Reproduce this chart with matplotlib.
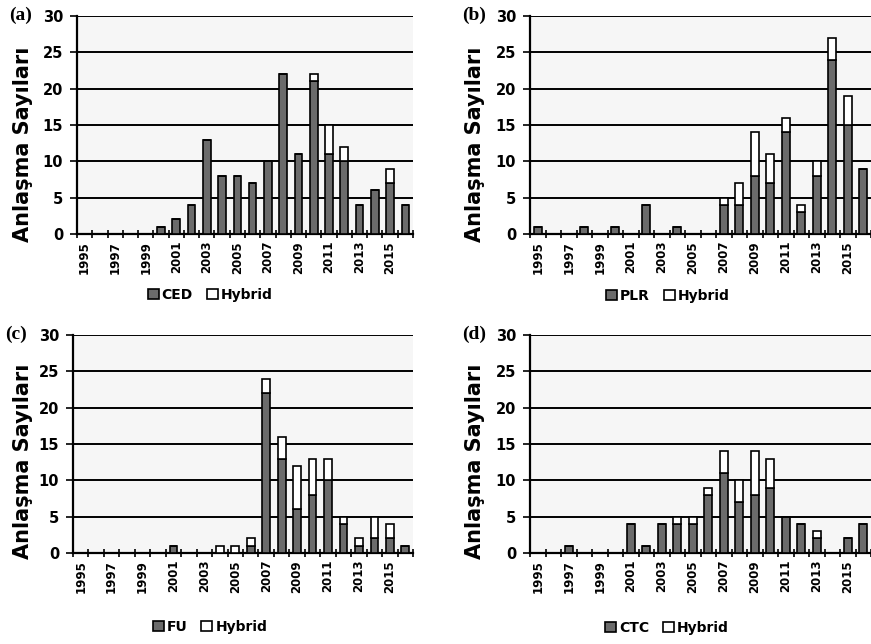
import numpy as np
import matplotlib
matplotlib.use("Agg")
import matplotlib.pyplot as plt
from matplotlib.patches import Patch

years = list(range(1995, 2017))
year_labels = [str(y) if y % 2 == 1 else "" for y in years]

# panel (a)
ced = [0, 0, 0, 0, 0, 1, 2, 4, 13, 8, 8, 7, 10, 22, 11, 21, 11, 10, 4, 6, 7, 4]
ced_hybrid = [0, 0, 0, 0, 0, 0, 0, 0, 0, 0, 0, 0, 0, 0, 0, 1, 4, 2, 0, 0, 2, 0]
# panel (b)
plr = [1, 0, 0, 1, 0, 1, 0, 4, 0, 1, 0, 0, 4, 4, 8, 7, 14, 3, 8, 24, 15, 9]
plr_hybrid = [0, 0, 0, 0, 0, 0, 0, 0, 0, 0, 0, 0, 1, 3, 6, 4, 2, 1, 2, 3, 4, 0]
# panel (c)
fu = [0, 0, 0, 0, 0, 0, 1, 0, 0, 0, 0, 1, 22, 13, 6, 8, 10, 4, 1, 2, 2, 1]
fu_hybrid = [0, 0, 0, 0, 0, 0, 0, 0, 0, 1, 1, 1, 2, 3, 6, 5, 3, 1, 1, 3, 2, 0]
# panel (d)
ctc = [0, 0, 1, 0, 0, 0, 4, 1, 4, 4, 4, 8, 11, 7, 8, 9, 5, 4, 2, 0, 2, 4]
ctc_hybrid = [0, 0, 0, 0, 0, 0, 0, 0, 0, 1, 1, 1, 3, 3, 6, 4, 0, 0, 1, 0, 0, 0]

panels = [
    ("(a)", "CED", ced, ced_hybrid),
    ("(b)", "PLR", plr, plr_hybrid),
    ("(c)", "FU", fu, fu_hybrid),
    ("(d)", "CTC", ctc, ctc_hybrid),
]

W, H = 871, 644
# axes boxes in pixels: left, top, right, bottom
boxes = [(77, 16, 413, 234), (530, 16, 871, 234),
         (73, 335, 413, 553), (530, 335, 871, 553)]
legend_pos = [(210, 295), (668, 296), (210, 627), (667, 628)]
# y-label: right edge x and vertical centre, in pixels
ylabel_pos = [(33, 144), (485, 144), (33, 461), (485, 461)]

fig = plt.figure(figsize=(W / 100, H / 100), dpi=100)
fig.patch.set_facecolor("white")

x = np.arange(len(years))
dark = "#6b6b6b"

for (tag, name, main, hyb), (l, t, r, b), (lx, ly), (yx, yy) in zip(
        panels, boxes, legend_pos, ylabel_pos):
    ax = fig.add_axes([l / W, 1 - b / H, (r - l) / W, (b - t) / H])
    ax.set_facecolor("#f6f6f6")
    ax.bar(x, main, width=0.5, color=dark, edgecolor="black", linewidth=1.2, zorder=3)
    ax.bar(x, hyb, bottom=main, width=0.5, color="white", edgecolor="black",
           linewidth=1.2, zorder=3)

    ax.set_xlim(-0.5, len(years) - 0.5)
    ax.set_ylim(0, 30)
    ax.set_yticks(range(0, 31, 5))
    ax.yaxis.grid(True, color="black", linewidth=1.4, zorder=1)
    ax.set_axisbelow(True)

    # tick marks between categories, labels centred on odd years
    ax.set_xticks(np.arange(-0.5, len(years), 1))
    ax.set_xticklabels([])
    ax.set_xticks(x, minor=True)
    ax.set_xticklabels(year_labels, minor=True, rotation=90, fontsize=8.5,
                       fontweight="bold")
    ax.tick_params(axis="x", which="major", direction="inout", length=6, width=1.2)
    ax.tick_params(axis="x", which="minor", length=0, pad=5)
    ax.tick_params(axis="y", direction="out", length=5, width=1.2, labelsize=10.5,
                   pad=5)
    for lab in ax.get_yticklabels():
        lab.set_fontweight("bold")

    for s in ["top", "right"]:
        ax.spines[s].set_visible(False)
    ax.spines["left"].set_linewidth(1.6)
    ax.spines["bottom"].set_linewidth(1.6)

    ax.set_ylabel("Anlaşma Sayıları", fontsize=15, fontweight="bold")
    ax.yaxis.set_label_coords((yx - l) / (r - l), (b - yy) / (b - t))

    fig.text((l - 68) / W, 1 - (t - 1) / H, tag, fontsize=14, fontweight="bold",
             family="Liberation Serif", ha="left", va="center")

    handles = [Patch(facecolor=dark, edgecolor="black", linewidth=1.2),
               Patch(facecolor="white", edgecolor="black", linewidth=1.2)]
    fig.legend(handles, [name, "Hybrid"], loc="center",
               bbox_to_anchor=(lx / W, 1 - ly / H), ncol=2, frameon=False,
               handlelength=0.8, handleheight=0.8, handletextpad=0.2,
               columnspacing=1.0, prop={"size": 10, "weight": "bold"})

fig.savefig("out.png", dpi=100)
